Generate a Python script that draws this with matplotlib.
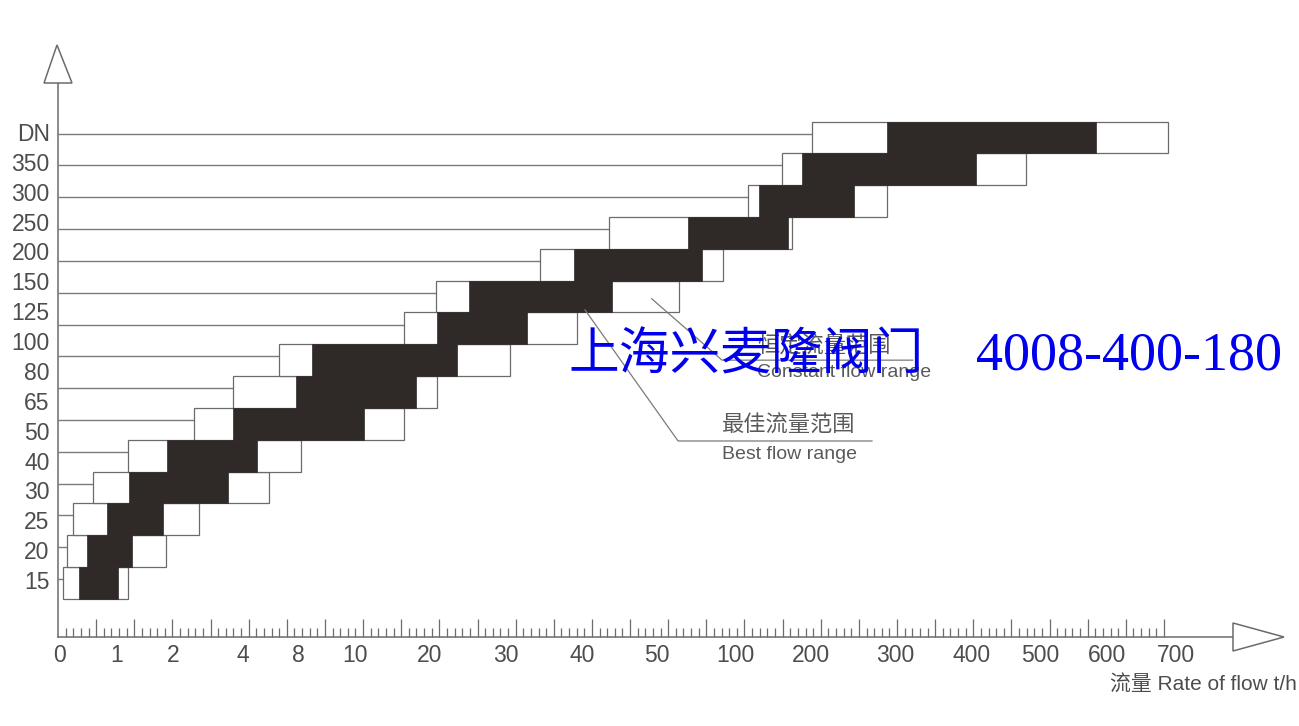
import numpy as np
import matplotlib
matplotlib.use('Agg')
import matplotlib.pyplot as plt
from matplotlib.patches import Polygon

plt.rcParams['font.family'] = ['Liberation Sans', 'Noto Sans CJK SC']

# --- DN sizes, bottom row first
dn = ['15', '20', '25', '30', '40', '50', '65', '80', '100', '125',
      '150', '200', '250', '300', '350']

# --- constant flow range (white box), t/h
const_lo = [0.05, 0.12, 0.23, 0.58, 1.2, 2.6, 3.7, 6.6, 16.5, 20.8,
            34.5, 43.6, 117, 162, 201]
const_hi = [1.2, 1.87, 2.74, 5.9, 8.1, 16.5, 20.9, 30.5, 39.3, 64,
            92, 175, 290, 480, 688]

# --- best flow range (black box), t/h
best_lo = [0.33, 0.47, 0.82, 1.21, 1.89, 3.7, 7.85, 8.5, 20.9, 25.1,
           38.9, 70, 132, 188, 290]
best_hi = [1.02, 1.27, 1.82, 3.57, 5.0, 11.2, 18.1, 23.6, 32.8, 44,
           79, 170, 251, 406, 584]

# --- printed flow scale: label values and where they sit (px from left)
flow_ticks = [0, 1, 2, 4, 8, 10, 20, 30, 40, 50, 100, 200, 300, 400, 500, 600, 700]
tick_px = [60, 117, 173, 243, 298, 355, 430, 506, 582, 657, 735, 811, 895, 972,
           1040, 1107, 1176]

W, H = 1299, 726
GREY = '#6b6b6b'
TXT = '#4d4d4d'

fv = np.array(flow_ticks, float)
fp = np.array(tick_px, float)
s0 = (fp[1] - fp[0]) / (fv[1] - fv[0])
s1 = (fp[-1] - fp[-2]) / (fv[-1] - fv[-2])


def fwd(v):
    v = np.asarray(v, float)
    return np.where(v < fv[0], fp[0] + (v - fv[0]) * s0,
                    np.where(v > fv[-1], fp[-1] + (v - fv[-1]) * s1,
                             np.interp(v, fv, fp)))


def inv(p):
    p = np.asarray(p, float)
    return np.where(p < fp[0], fv[0] + (p - fp[0]) / s0,
                    np.where(p > fp[-1], fv[-1] + (p - fp[-1]) / s1,
                             np.interp(p, fp, fv)))


def fig_xy(x, y):
    # image pixels (y down) -> figure fraction
    return x / W, 1 - y / H


fig = plt.figure(figsize=(W / 100, H / 100), dpi=100)
x0, y0 = fig_xy(58, 637)
x1, y1 = fig_xy(1237, 83)
ax = fig.add_axes((x0, y0, x1 - x0, y1 - y0))
ax.set_xscale('function', functions=(fwd, inv))
ax.set_xlim(float(inv(58)), float(inv(1237)))
ax.set_ylim(-1.70, 15.71)

rows = np.arange(len(dn))

# leader lines from the DN axis to each box
ax.hlines(rows + 0.12, ax.get_xlim()[0], const_lo, color='#7a7a7a', lw=1.0, zorder=2)

ax.barh(rows, np.subtract(const_hi, const_lo), left=const_lo, height=1,
        color='white', edgecolor=GREY, lw=0.9, zorder=3)
ax.barh(rows, np.subtract(best_hi, best_lo), left=best_lo, height=1,
        color='#2f2a28', edgecolor='#2f2a28', lw=0.5, zorder=4)

# y labels (DN header on top)
ax.set_yticks(np.linspace(0.09, 14.17, len(dn) + 1), dn + ['DN'])
ax.tick_params(axis='y', length=0, pad=6, labelsize=16.5, labelcolor=TXT)

# ruler-like ticks on the flow axis
ruler = np.linspace(58, 1164, 146)[1:]
ax.set_xticks(inv(ruler[4::5]))
ax.set_xticks(inv(ruler), minor=True)
ax.tick_params(axis='x', which='both', direction='in', labelbottom=False,
               color=GREY, width=0.9)
ax.tick_params(axis='x', which='major', length=13)
ax.tick_params(axis='x', which='minor', length=6.5)

for v in flow_ticks:
    ax.annotate(str(v), (v, 0), xycoords=ax.get_xaxis_transform(),
                xytext=(0, -19), textcoords='offset pixels',
                ha='center', va='center', fontsize=16.5, color=TXT)

for s in ['top', 'right']:
    ax.spines[s].set_visible(False)
for s in ['left', 'bottom']:
    ax.spines[s].set_color(GREY)
    ax.spines[s].set_linewidth(1.1)

# hollow arrow heads
for pts in ([(44, 83), (72, 83), (57, 45)], [(1233, 623), (1233, 651), (1284, 637)]):
    fig.add_artist(Polygon([fig_xy(*p) for p in pts], closed=True,
                           transform=fig.transFigure, facecolor='white',
                           edgecolor=GREY, lw=1.1))

# legend call-outs
ax.plot([49.3, 91.7, 323], [8.93, 7.0, 7.0], color='#7a7a7a', lw=0.9, zorder=5)
ax.text(128.9, 7.42, '恒定流量范围', fontsize=16, color='#5a5a5a', va='center', zorder=6)
ax.text(128.9, 6.6, 'Constant flow range', fontsize=14, color='#5a5a5a', va='center', zorder=6)

ax.plot([40.4, 63.5, 272.6], [8.58, 4.46, 4.46], color='#7a7a7a', lw=0.9, zorder=5)
ax.text(91.7, 4.93, '最佳流量范围', fontsize=16, color='#5a5a5a', va='center', zorder=6)
ax.text(91.7, 4.05, 'Best flow range', fontsize=14, color='#5a5a5a', va='center', zorder=6)

# axis title
fig.text(*fig_xy(1297, 685), '流量 Rate of flow t/h', ha='right', va='center',
         fontsize=15, color=TXT)

# watermark
fig.text(*fig_xy(568, 356), '上海兴麦隆阀门', ha='left', va='center',
         fontsize=36.5, color='#0000ee', family=['Noto Sans CJK SC'], zorder=10)
fig.text(*fig_xy(976, 356), '4008-400-180', ha='left', va='center',
         fontsize=39, color='#0000ee', family=['Liberation Serif'], zorder=10)

fig.savefig('out.png', dpi=100)
